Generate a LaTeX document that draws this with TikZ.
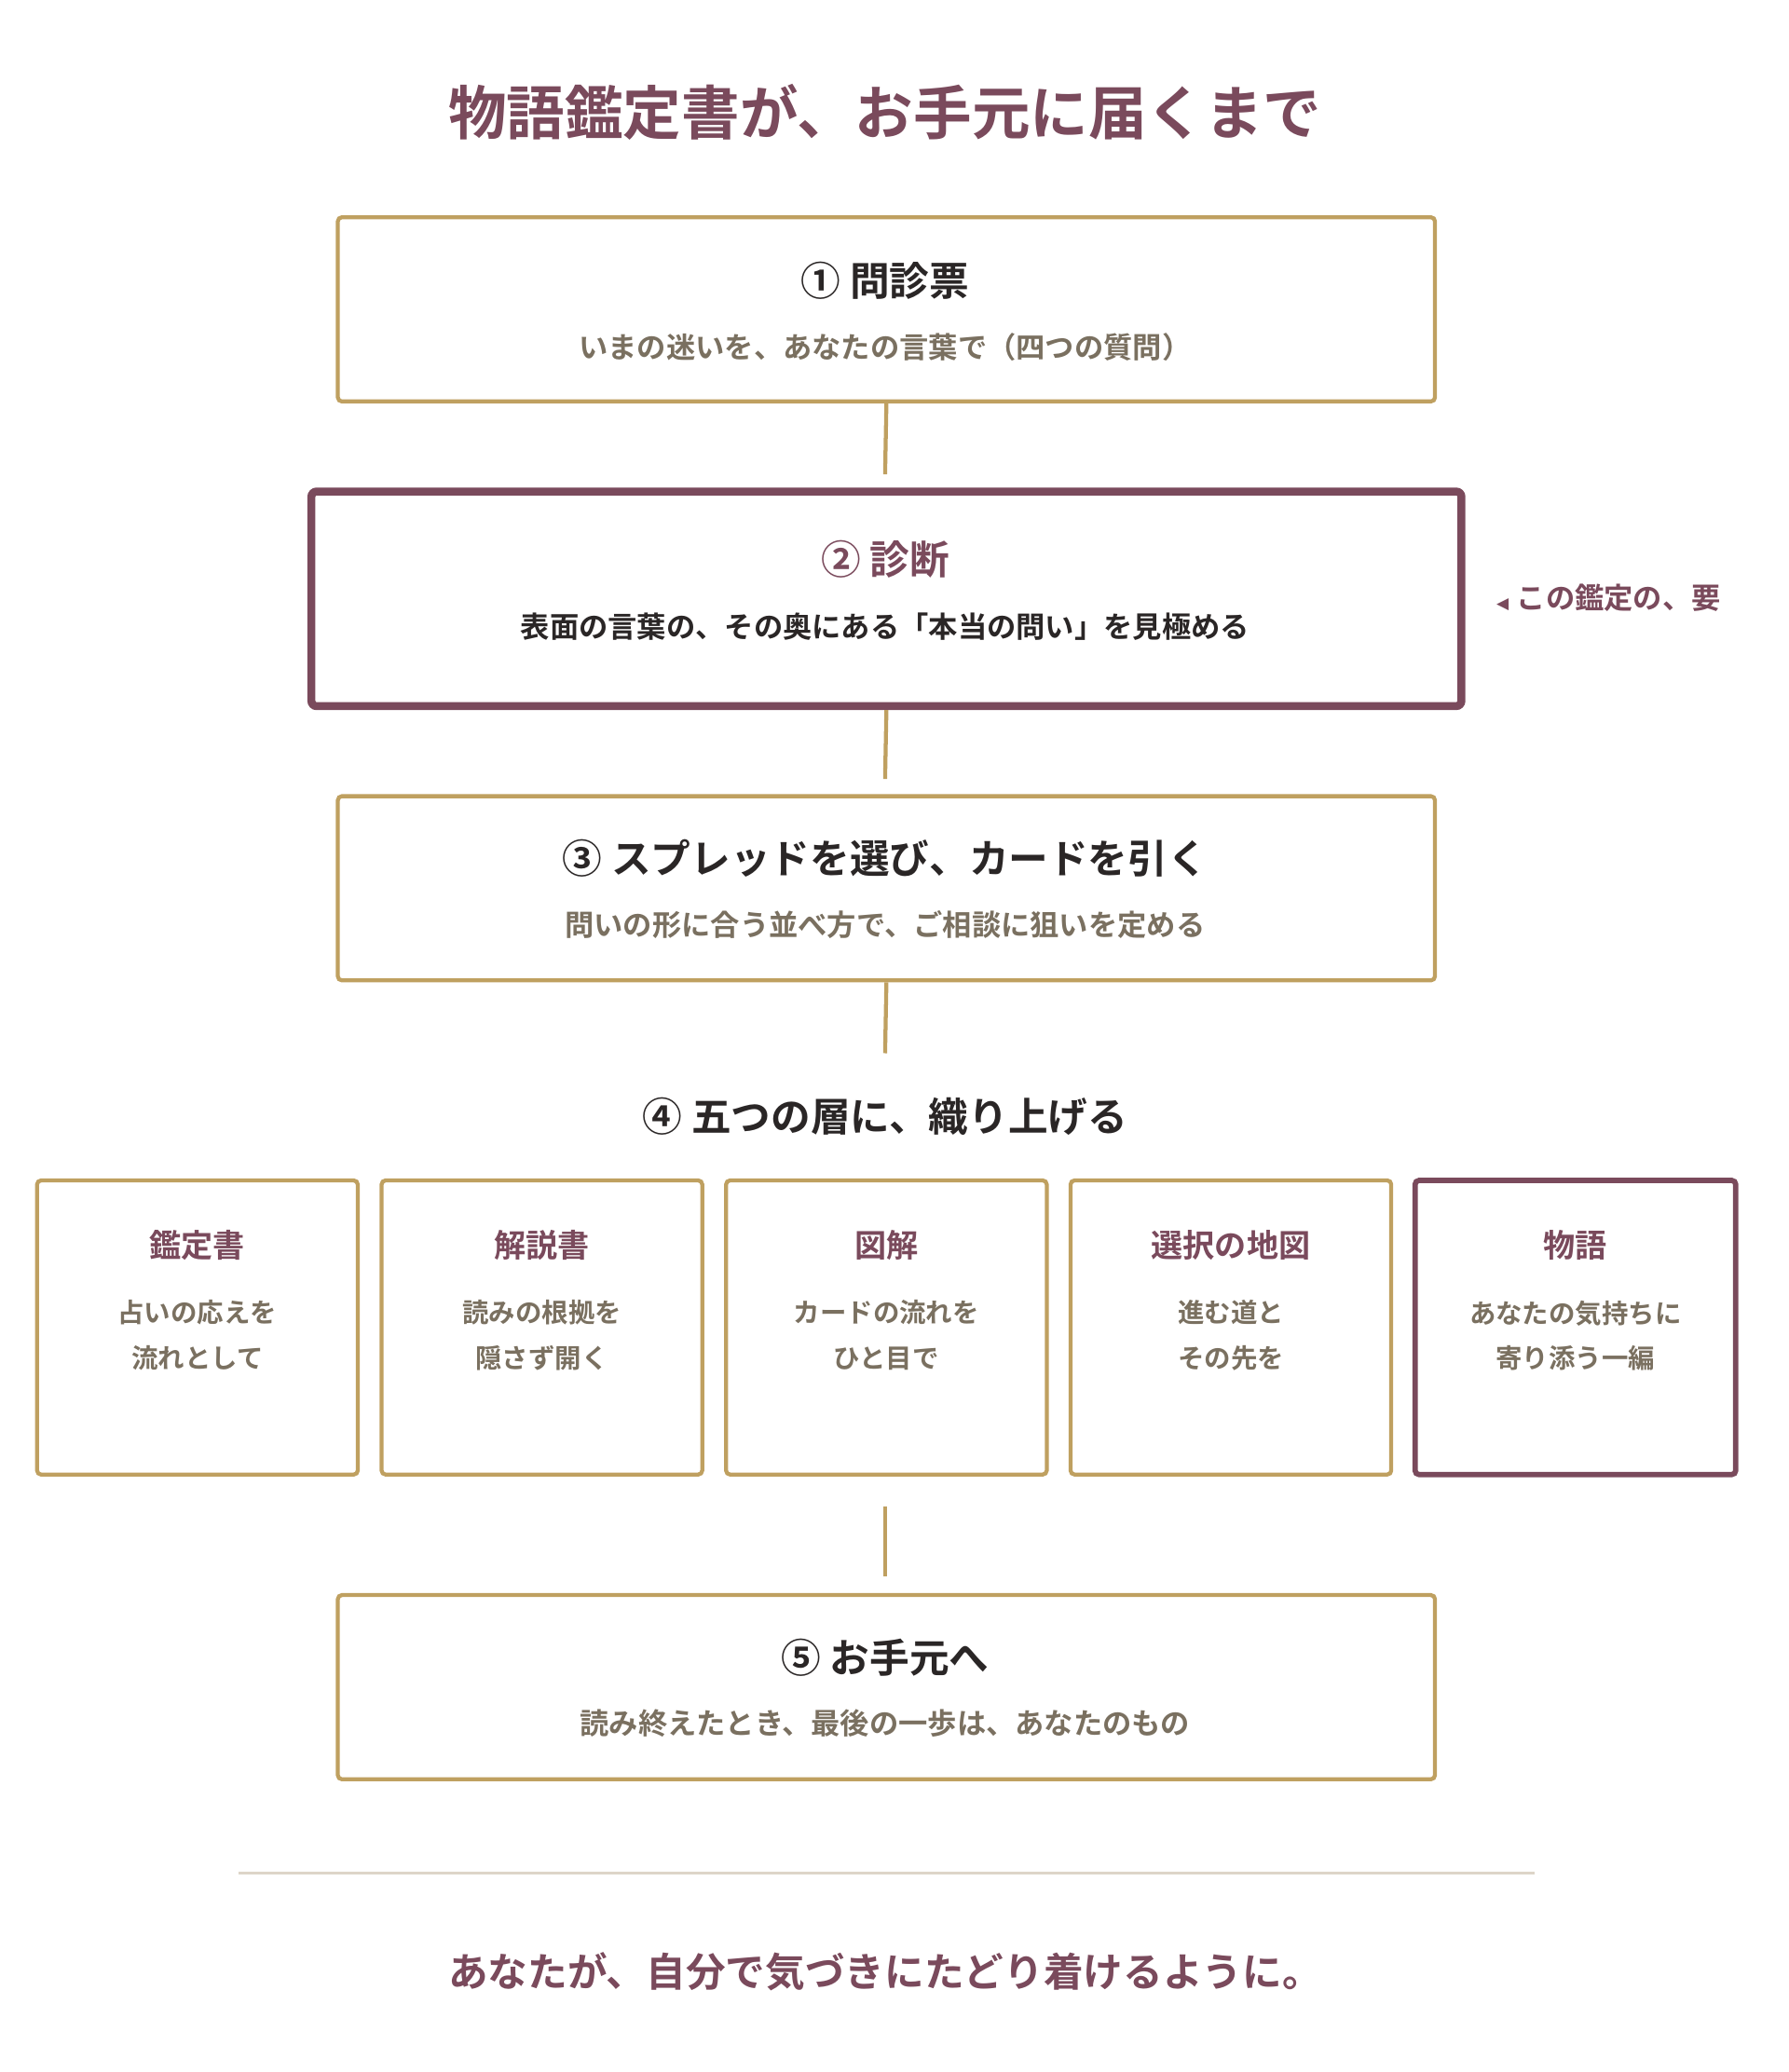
\documentclass[tikz,border=0pt]{standalone}
\usepackage{fontspec}
\newfontfamily\jp{Noto Sans CJK JP Bold}
\newfontfamily\dv{DejaVu Sans}
\definecolor{maroon}{HTML}{7A4A5C}
\definecolor{gold}{HTML}{BFA060}
\definecolor{txtgray}{HTML}{7A7060}
\definecolor{dark}{HTML}{2A2626}
\definecolor{rule}{HTML}{DDD5C8}
\begin{document}
\begin{tikzpicture}[x=1pt,y=-1pt,
  gbox/.style={draw=gold,line width=3pt,rounded corners=3pt},
  mbox/.style={draw=maroon,line width=6pt,rounded corners=4pt},
  conn/.style={draw=gold,line width=3pt},
  ttl/.style={font=\jp\fontsize{30}{36}\selectfont,text=dark},
  sub/.style={font=\jp\fontsize{22}{26}\selectfont,text=txtgray},
  ctl/.style={font=\jp\fontsize{24}{28}\selectfont,text=maroon},
  ctx/.style={font=\jp\fontsize{20}{34}\selectfont,text=txtgray,align=center}]
\useasboundingbox (0,0) rectangle (1350,1564);
\node[font=\jp\fontsize{44}{50}\selectfont,text=maroon] (title) at (668,85) {物語鑑定書が、お手元に届くまで};
% box1
\node[gbox,minimum width=828pt,minimum height=139pt] (b1) at (669,233.5) {};
\node[ttl] (t1) at (668,212) {① 問診票};
\node[sub] (s1) at (668,262) {いまの迷いを、あなたの言葉で（四つの質問）};
% box2
\node[mbox,minimum width=868pt,minimum height=162pt] (b2) at (669,452) {};
\node[ttl,text=maroon] (t2) at (668,422) {② 診断};
\node[sub,text=dark] (s2) at (668,473) {表面の言葉の、その奥にある「本当の問い」を見極める};
\node[anchor=west,text=maroon] (side) at (1126,451) {{\dv\fontsize{12}{14}\selectfont ◀}\hspace{6pt}{\jp\fontsize{22}{26}\selectfont この鑑定の、要}};
% box3
\node[gbox,minimum width=828pt,minimum height=139pt] (b3) at (669,670.5) {};
\node[ttl] (t3) at (668,648) {③ スプレッドを選び、カードを引く};
\node[sub] (s3) at (668,698) {問いの形に合う並べ方で、ご相談に狙いを定める};
% heading 4
\node[ttl] (h4) at (668,843) {④ 五つの層に、織り上げる};
% five boxes
\foreach \i/\x/\st/\t/\a/\b in {1/149/gbox/鑑定書/占いの応えを/流れとして,
  2/409/gbox/解説書/読みの根拠を/隠さず開く,
  3/669/gbox/図解/カードの流れを/ひと目で,
  4/929/gbox/選択の地図/進む道と/その先を}{
  \node[\st,minimum width=242pt,minimum height=222pt] (c\i) at (\x,1002) {};
  \node[ctl] (ct\i) at (\x,940) {\t};
  \node[ctx,anchor=north] (cx\i) at (\x,978) {\a\\\b};
}
\node[draw=maroon,line width=4pt,rounded corners=3pt,minimum width=242pt,minimum height=222pt] (c5) at (1189,1002) {};
\node[ctl] (ct5) at (1189,940) {物語};
\node[ctx,anchor=north] (cx5) at (1189,978) {あなたの気持ちに\\寄り添う一編};
% box5
\node[gbox,minimum width=828pt,minimum height=139pt] (b5) at (669,1273.5) {};
\node[ttl] (t5) at (668,1251) {⑤ お手元へ};
\node[sub] (s5) at (668,1301) {読み終えたとき、最後の一歩は、あなたのもの};
% connectors
\coordinate (k1) at (668,358); \coordinate (k2) at (668,588);
\coordinate (k3) at (668,795); \coordinate (k4a) at (668,1137); \coordinate (k4b) at (668,1190);
\draw[conn] (b1.south) -- (k1);
\draw[conn] (b2.south) -- (k2);
\draw[conn] (b3.south) -- (k3);
\draw[conn] (k4a) -- (k4b);
\coordinate (r1) at (180,1414); \coordinate (r2) at (1158,1414);
\draw[rule,line width=2pt] (r1) -- (r2);
\node[font=\jp\fontsize{30}{36}\selectfont,text=maroon] (foot) at (668,1488) {あなたが、自分で気づきにたどり着けるように。};
\end{tikzpicture}
\end{document}
